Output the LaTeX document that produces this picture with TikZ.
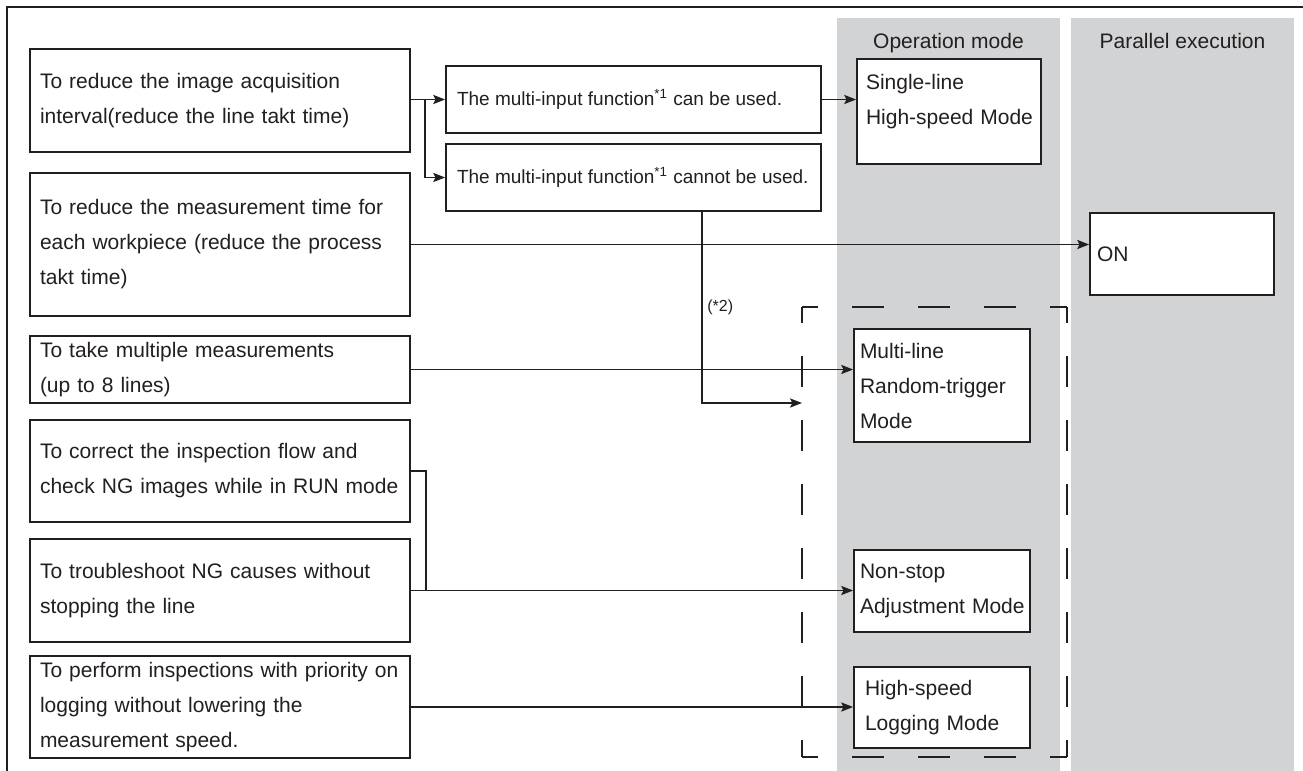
\documentclass[tikz,border=0pt]{standalone}
\usepackage{fontspec}
\setmainfont{Liberation Sans}
\usetikzlibrary{arrows.meta}
\definecolor{colgray}{RGB}{209,211,212}
\definecolor{ink}{RGB}{35,31,32}
\begin{document}
\begin{tikzpicture}[x=0.5pt,y=-0.5pt,
  every node/.style={text=ink},
  box/.style={draw=ink, line width=0.85pt, fill=white, inner ysep=0pt, align=left},
  lbox/.style={box, text width=180pt, inner xsep=5pt, font=\fontsize{10.5pt}{17.5pt}\selectfont},
  midbox/.style={box, inner xsep=5.5pt, minimum width=187.5pt, minimum height=33.5pt, font=\fontsize{9.5pt}{11pt}\selectfont},
  modebox/.style={box, font=\fontsize{10.5pt}{17.5pt}\selectfont},
  head/.style={anchor=base, font=\fontsize{10.5pt}{12pt}\selectfont},
  conn/.style={draw=ink, line width=0.8pt},
  arr/.style={-{Stealth[length=6pt,width=4.6pt,inset=1.2pt]}},
  hdash/.style={draw=ink, line width=0.75pt, dash pattern=on 16pt off 17pt, dash phase=8pt},
  vdash/.style={draw=ink, line width=0.75pt, dash pattern=on 15.5pt off 16.5pt, dash phase=7.75pt}
]
\useasboundingbox (0,0) rectangle (1303,771);
% gray columns
\fill[colgray] (837,18) rectangle (1060,771);
\fill[colgray] (1071,18) rectangle (1294,771);
% outer frame
\draw[ink, line width=1pt] (7,771) -- (7,7) -- (1303,7);
% headers
\node[head] (hop) at (948.5,48) {Operation mode};
\node[head] (hpe) at (1182.5,48) {Parallel execution};
% dashed group
\coordinate (dtl) at (802,307);
\coordinate (dtr) at (1067,307);
\coordinate (dbl) at (802,757);
\coordinate (dbr) at (1067,757);
\draw[hdash] (dtl) -- (dtr);
\draw[hdash] (dbl) -- (dbr);
\draw[vdash] (dtl) -- (dbl);
\draw[vdash] (dtr) -- (dbr);
% left boxes
\node[lbox, minimum height=51.5pt] (b1) at (220,100.5) {To reduce the image acquisition\\\mbox{interval(reduce the line takt time)}};
\node[lbox, minimum height=71.5pt] (b2) at (220,244.5) {\mbox{To reduce the measurement time for}\\\mbox{each workpiece (reduce the process}\\takt time)};
\node[lbox, minimum height=33.5pt] (b3) at (220,369.5) {To take multiple measurements\\(up to 8 lines)};
\node[lbox, minimum height=51pt] (b4) at (220,471) {\mbox{To correct the inspection flow and}\\\mbox{check NG images while in RUN mode}};
\node[lbox, minimum height=51.5pt] (b5) at (220,590.5) {\mbox{To troubleshoot NG causes without}\\stopping the line};
\node[lbox, minimum height=51pt] (b6) at (220,707) {\mbox{To perform inspections with priority on}\\logging without lowering the\\measurement speed.};
% middle boxes
\node[midbox] (m1) at (633.5,99.5) {\makebox[176.5pt][l]{The multi-input function\textsuperscript{*1} can be used.}};
\node[midbox] (m2) at (633.5,177.5) {\makebox[176.5pt][l]{The multi-input function\textsuperscript{*1} cannot be used.}};
% mode boxes
\node[modebox, text width=83pt, inner xsep=4.5pt, minimum height=52.5pt] (sl) at (949,111.5) {Single-line\\\mbox{High-speed Mode}\\[-5pt]\mbox{}};
\node[modebox, text width=82pt, inner xsep=3pt, minimum height=56.5pt] (mr) at (942,385.5) {Multi-line\\Random-trigger\\Mode};
\node[modebox, text width=82pt, inner xsep=3pt, minimum height=41pt] (ns) at (942,591) {Non-stop\\\mbox{Adjustment Mode}};
\node[modebox, text width=77pt, inner xsep=5.5pt, minimum height=40.5pt] (hs) at (942,707.5) {High-speed\\Logging Mode};
\node[modebox, text width=85pt, inner xsep=3.5pt, minimum height=41pt] (on) at (1182,254) {ON};
% connectors
\coordinate (br) at (425,99.5);
\draw[conn,arr] (b1.east |- m1.west) -- (m1.west);
\draw[conn,arr] (br) |- (m2.west);
\draw[conn,arr] (m1.east) -- (m1.east -| sl.west);
\draw[conn,arr] (b2.east) -- (b2.east -| on.west);
\coordinate (m2s) at (702,211);
\coordinate (dl) at (802,403);
\draw[conn,arr] (m2s) |- (dl);
\node[anchor=base west, inner sep=0pt, font=\fontsize{8pt}{9pt}\selectfont] (n2) at (707,311) {(*2)};
\draw[conn,arr] (b3.east) -- (b3.east -| mr.west);
\coordinate (j45) at (426,590.5);
\draw[conn] (b4.east) -| (j45);
\draw[conn,arr] (b5.east) -- (b5.east -| ns.west);
\draw[conn,arr] (b6.east) -- (b6.east -| hs.west);
\end{tikzpicture}
\end{document}
